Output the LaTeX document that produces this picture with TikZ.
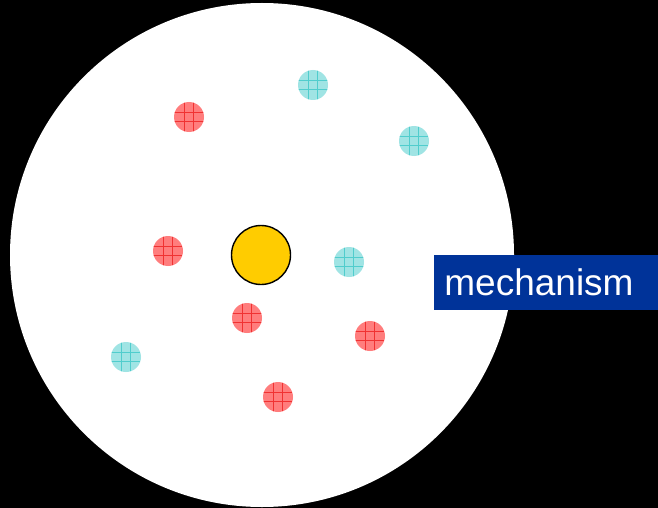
\documentclass[tikz,border=0pt]{standalone}
\usepackage{fontspec}
\setmainfont{Liberation Sans}
\usetikzlibrary{positioning}
\definecolor{redfill}{RGB}{255,125,125}
\definecolor{redline}{RGB}{240,50,50}
\definecolor{cyanfill}{RGB}{160,228,228}
\definecolor{cyanline}{RGB}{80,205,205}
\definecolor{coreyellow}{RGB}{255,204,0}
\definecolor{labelblue}{RGB}{0,51,153}

\begin{document}
\begin{tikzpicture}[x=0.5pt,y=-0.5pt,
  ion/.style={circle,minimum size=15pt,inner sep=0pt,fill=#1fill,
    path picture={
      \foreach \d in {-4.8,4.8}{
        \draw[#1line,line width=0.45pt]
          ([xshift=\d*0.5pt]path picture bounding box.north) --
          ([xshift=\d*0.5pt]path picture bounding box.south);
        \draw[#1line,line width=0.45pt]
          ([yshift=\d*0.5pt]path picture bounding box.west) --
          ([yshift=\d*0.5pt]path picture bounding box.east);
      }}}]
  % background and dish
  \useasboundingbox (0,0) rectangle (658,508);
  \fill[black] (0,0) rectangle (658,508);
  \node (dish) [circle,fill=white,inner sep=0pt,minimum size=252pt] at (262,255) {};
  % red ions
  \node (r1) [ion=red] at (189,117) {};
  \node (r2) [ion=red] at (168,251) {};
  \node (r3) [ion=red] at (247,318) {};
  \node (r4) [ion=red] at (370,336) {};
  \node (r5) [ion=red] at (278,397) {};
  % cyan ions
  \node (c1) [ion=cyan] at (313,85) {};
  \node (c2) [ion=cyan] at (414,141) {};
  \node (c3) [ion=cyan] at (349,262) {};
  \node (c4) [ion=cyan] at (126,357) {};
  % central particle
  \node (core) [circle,draw=black,line width=0.7pt,fill=coreyellow,
    inner sep=0pt,minimum size=29.5pt] at (261,255) {};
  % label
  \node (label) [fill=labelblue,text=white,anchor=west,inner sep=0pt,
    minimum height=27.5pt,text width=107pt,inner xsep=5pt,align=left,
    font=\fontsize{18.5}{22}\selectfont] at (434,282.5) {mechanism};
\end{tikzpicture}
\end{document}
